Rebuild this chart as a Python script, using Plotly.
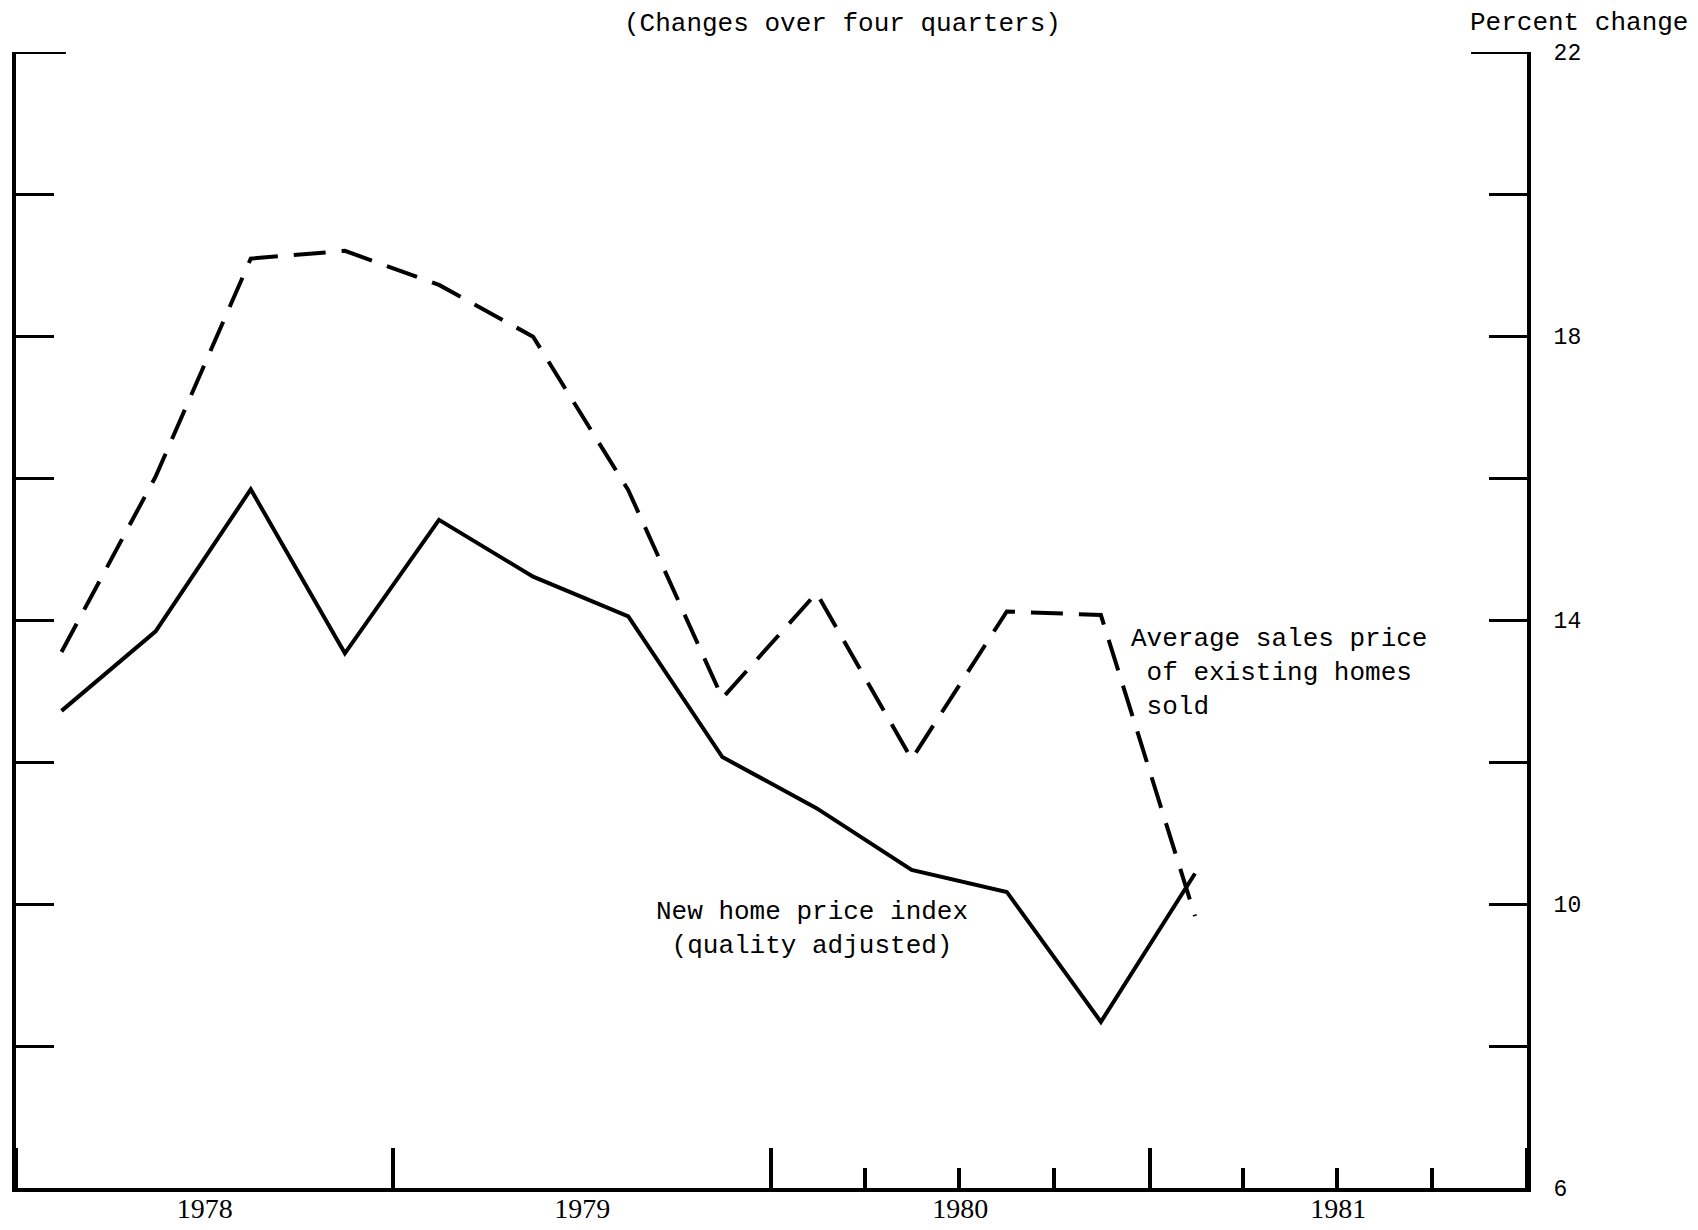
import plotly.graph_objects as go

# Quarter midpoints, 1978Q1 - 1981Q1
quarters = ["1978-02-14", "1978-05-16", "1978-08-16", "1978-11-15",
            "1979-02-14", "1979-05-16", "1979-08-16", "1979-11-15",
            "1980-02-14", "1980-05-16", "1980-08-16", "1980-11-15",
            "1981-02-14"]
new_home_index = [12.72, 13.84, 15.84, 13.53, 15.41, 14.61, 14.05, 12.07,
                  11.35, 10.48, 10.17, 8.34, 10.43]
existing_home_price = [13.55, 16.02, 19.09, 19.20, 18.72, 17.99, 15.83, 12.90,
                       14.38, 12.04, 14.12, 14.07, 9.83]

y_tickvals = [6, 8, 10, 12, 14, 16, 18, 20, 22]
y_ticktext = ["6", "", "10", "", "14", "", "18", "", "22"]
quarter_boundaries = ["1980-04-01", "1980-07-01", "1980-10-01",
                      "1981-04-01", "1981-07-01", "1981-10-01"]

MONO = "Liberation Mono"

fig = go.Figure()
fig.add_trace(go.Scatter(
    x=quarters, y=new_home_index, mode="lines",
    line=dict(color="black", width=4), yaxis="y", showlegend=False,
    name="New home price index (quality adjusted)"))
fig.add_trace(go.Scatter(
    x=quarters, y=existing_home_price, mode="lines",
    line=dict(color="black", width=4, dash="32px,16px"), yaxis="y2",
    showlegend=False, name="Average sales price of existing homes sold"))

fig.update_layout(
    width=1698, height=1230,
    margin=dict(l=8, r=179, t=44, b=50, autoexpand=False),
    paper_bgcolor="white", plot_bgcolor="white",
    font=dict(family=MONO, color="black", size=26),
    xaxis=dict(
        type="date", range=["1978-01-01", "1982-01-01"],
        tickmode="linear", tick0="1978-01-01", dtick="M12",
        ticklabelmode="period", tickformat="%Y",
        ticks="inside", ticklen=40, tickwidth=4, tickcolor="black",
        showline=True, linecolor="black", linewidth=4,
        showgrid=False, zeroline=False, automargin=False,
        tickfont=dict(family="Liberation Serif", size=28, color="black"),
        ticklabelstandoff=-8,
        minor=dict(tickmode="array", tickvals=quarter_boundaries,
                   ticks="inside", ticklen=20, tickwidth=4,
                   tickcolor="black", showgrid=False),
    ),
    yaxis=dict(
        range=[6, 22], tickmode="array", tickvals=y_tickvals,
        ticks="inside", ticklen=38, tickwidth=3, tickcolor="black",
        showticklabels=False, showline=True, linecolor="black", linewidth=4,
        showgrid=False, zeroline=False, automargin=False,
    ),
    yaxis2=dict(
        range=[6, 22], overlaying="y", side="right",
        tickmode="array", tickvals=y_tickvals, ticktext=y_ticktext,
        ticks="inside", ticklen=38, tickwidth=3, tickcolor="black",
        showline=True, linecolor="black", linewidth=4,
        showgrid=False, zeroline=False, automargin=False,
        tickfont=dict(family=MONO, size=23, color="black"),
        ticklabelstandoff=18,
    ),
)

# longer top "bracket" ticks at 22
fig.add_shape(type="line", xref="paper", yref="y", x0=0, x1=0.033, y0=22, y1=22,
              line=dict(color="black", width=4))
fig.add_shape(type="line", xref="paper", yref="y", x0=0.963, x1=1, y0=22, y1=22,
              line=dict(color="black", width=4))

fig.add_annotation(text="(Changes over four quarters)", xref="paper", yref="paper",
                   x=0.5467, y=1.0245, showarrow=False, xanchor="center", yanchor="middle",
                   font=dict(family=MONO, size=26, color="black"))
fig.add_annotation(text="Percent change", xref="paper", yref="paper",
                   x=1.108, y=1.0255, showarrow=False, xanchor="right", yanchor="middle",
                   font=dict(family=MONO, size=26, color="black"))
fig.add_annotation(text="Average sales price<br>\u00a0of existing homes<br>\u00a0sold",
                   xref="paper", yref="paper", x=0.7366, y=0.4533, showarrow=False,
                   xanchor="left", yanchor="middle", align="left",
                   font=dict(family=MONO, size=26, color="black"))
fig.add_annotation(text="New home price index<br>(quality adjusted)",
                   xref="paper", yref="paper", x=0.5266, y=0.2284, showarrow=False,
                   xanchor="center", yanchor="middle", align="center",
                   font=dict(family=MONO, size=26, color="black"))

fig.write_html("out.html")
